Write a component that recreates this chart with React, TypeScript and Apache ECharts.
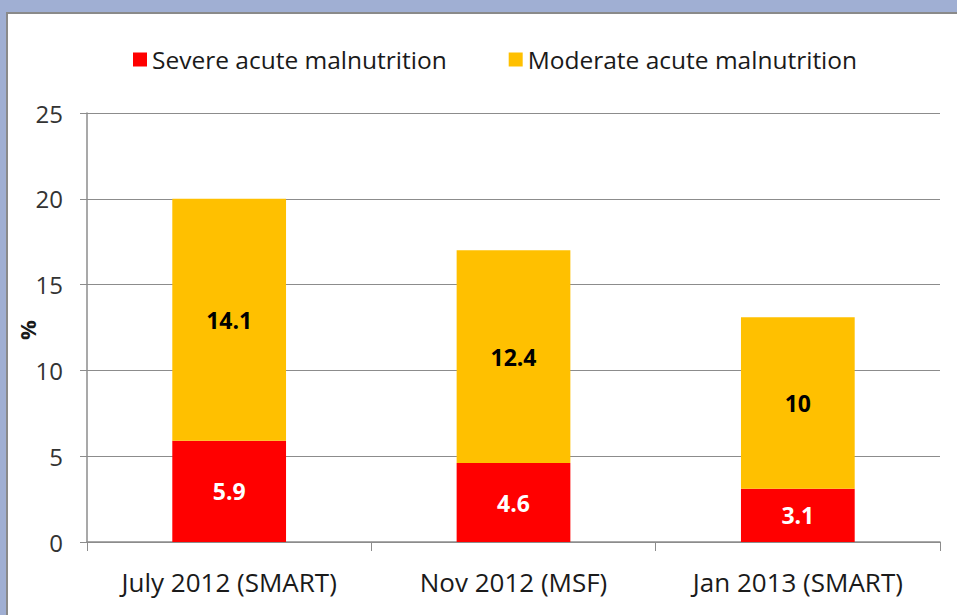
import React, { useEffect, useRef } from "react";
import * as echarts from "echarts";

const categories = ["July 2012 (SMART)", "Nov 2012 (MSF)", "Jan 2013 (SMART)"];
const severe = [5.9, 4.6, 3.1];
const moderate = [14.1, 12.4, 10];
const seriesNames = ["Severe acute malnutrition", "Moderate acute malnutrition"];
const yAxisTitle = "%";

const FONT = "'Open Sans', 'DejaVu Sans', sans-serif";

export default function App() {
  const ref = useRef<HTMLDivElement>(null);
  useEffect(() => {
    document.body.style.margin = "0";
    const chart = echarts.init(ref.current!, undefined, { renderer: "svg" });
    chart.setOption({
      animation: false,
      backgroundColor: "#a0afd3",
      textStyle: { fontFamily: FONT },
      graphic: [
        {
          type: "rect",
          shape: { x: 7, y: 13, width: 960, height: 620 },
          style: { fill: "#ffffff", stroke: "#8a8a8a", lineWidth: 2 },
          z: -10,
        },
        {
          type: "text",
          x: 27,
          y: 330,
          rotation: Math.PI / 2,
          style: {
            text: yAxisTitle,
            fontSize: 22,
            fontWeight: "bold",
            fill: "#1a1a1a",
            fontFamily: FONT,
            align: "center",
            verticalAlign: "middle",
          },
        },
      ],
      legend: {
        top: 42,
        left: 128,
        itemWidth: 14,
        itemHeight: 14,
        itemGap: 62,
        icon: "rect",
        textStyle: { fontSize: 24.5, color: "#1a1a1a", fontFamily: FONT },
        data: seriesNames,
      },
      grid: { left: 87, right: 17, top: 113, bottom: 73, outerBoundsMode: "none", containLabel: false },
      xAxis: {
        type: "category",
        data: categories,
        axisLine: { lineStyle: { color: "#8c8c8c", width: 1.5 } },
        axisTick: { show: true, length: 9, lineStyle: { color: "#8c8c8c" } },
        axisLabel: { fontSize: 26, color: "#1a1a1a", margin: 27, fontFamily: FONT },
      },
      yAxis: {
        type: "value",
        min: 0,
        max: 25,
        interval: 5,
        axisLine: { show: true, lineStyle: { color: "#8c8c8c", width: 1.5 } },
        axisTick: { show: true, length: 7, lineStyle: { color: "#8c8c8c" } },
        axisLabel: { fontSize: 24, color: "#333333", margin: 24, fontFamily: FONT },
        splitLine: { lineStyle: { color: "#8c8c8c", width: 1 } },
      },
      series: [
        {
          name: seriesNames[0],
          type: "bar",
          stack: "total",
          data: severe,
          barWidth: "40%",
          itemStyle: { color: "#ff0000" },
          label: {
            show: true,
            position: "inside",
            color: "#ffffff",
            fontWeight: "bold",
            fontSize: 23,
            fontFamily: FONT,
          },
        },
        {
          name: seriesNames[1],
          type: "bar",
          stack: "total",
          data: moderate,
          barWidth: "40%",
          itemStyle: { color: "#ffc000" },
          label: {
            show: true,
            position: "inside",
            color: "#000000",
            fontWeight: "bold",
            fontSize: 23,
            fontFamily: FONT,
          },
        },
      ],
    });
    return () => chart.dispose();
  }, []);
  return <div ref={ref} style={{ width: 957, height: 615 }} />;
}
